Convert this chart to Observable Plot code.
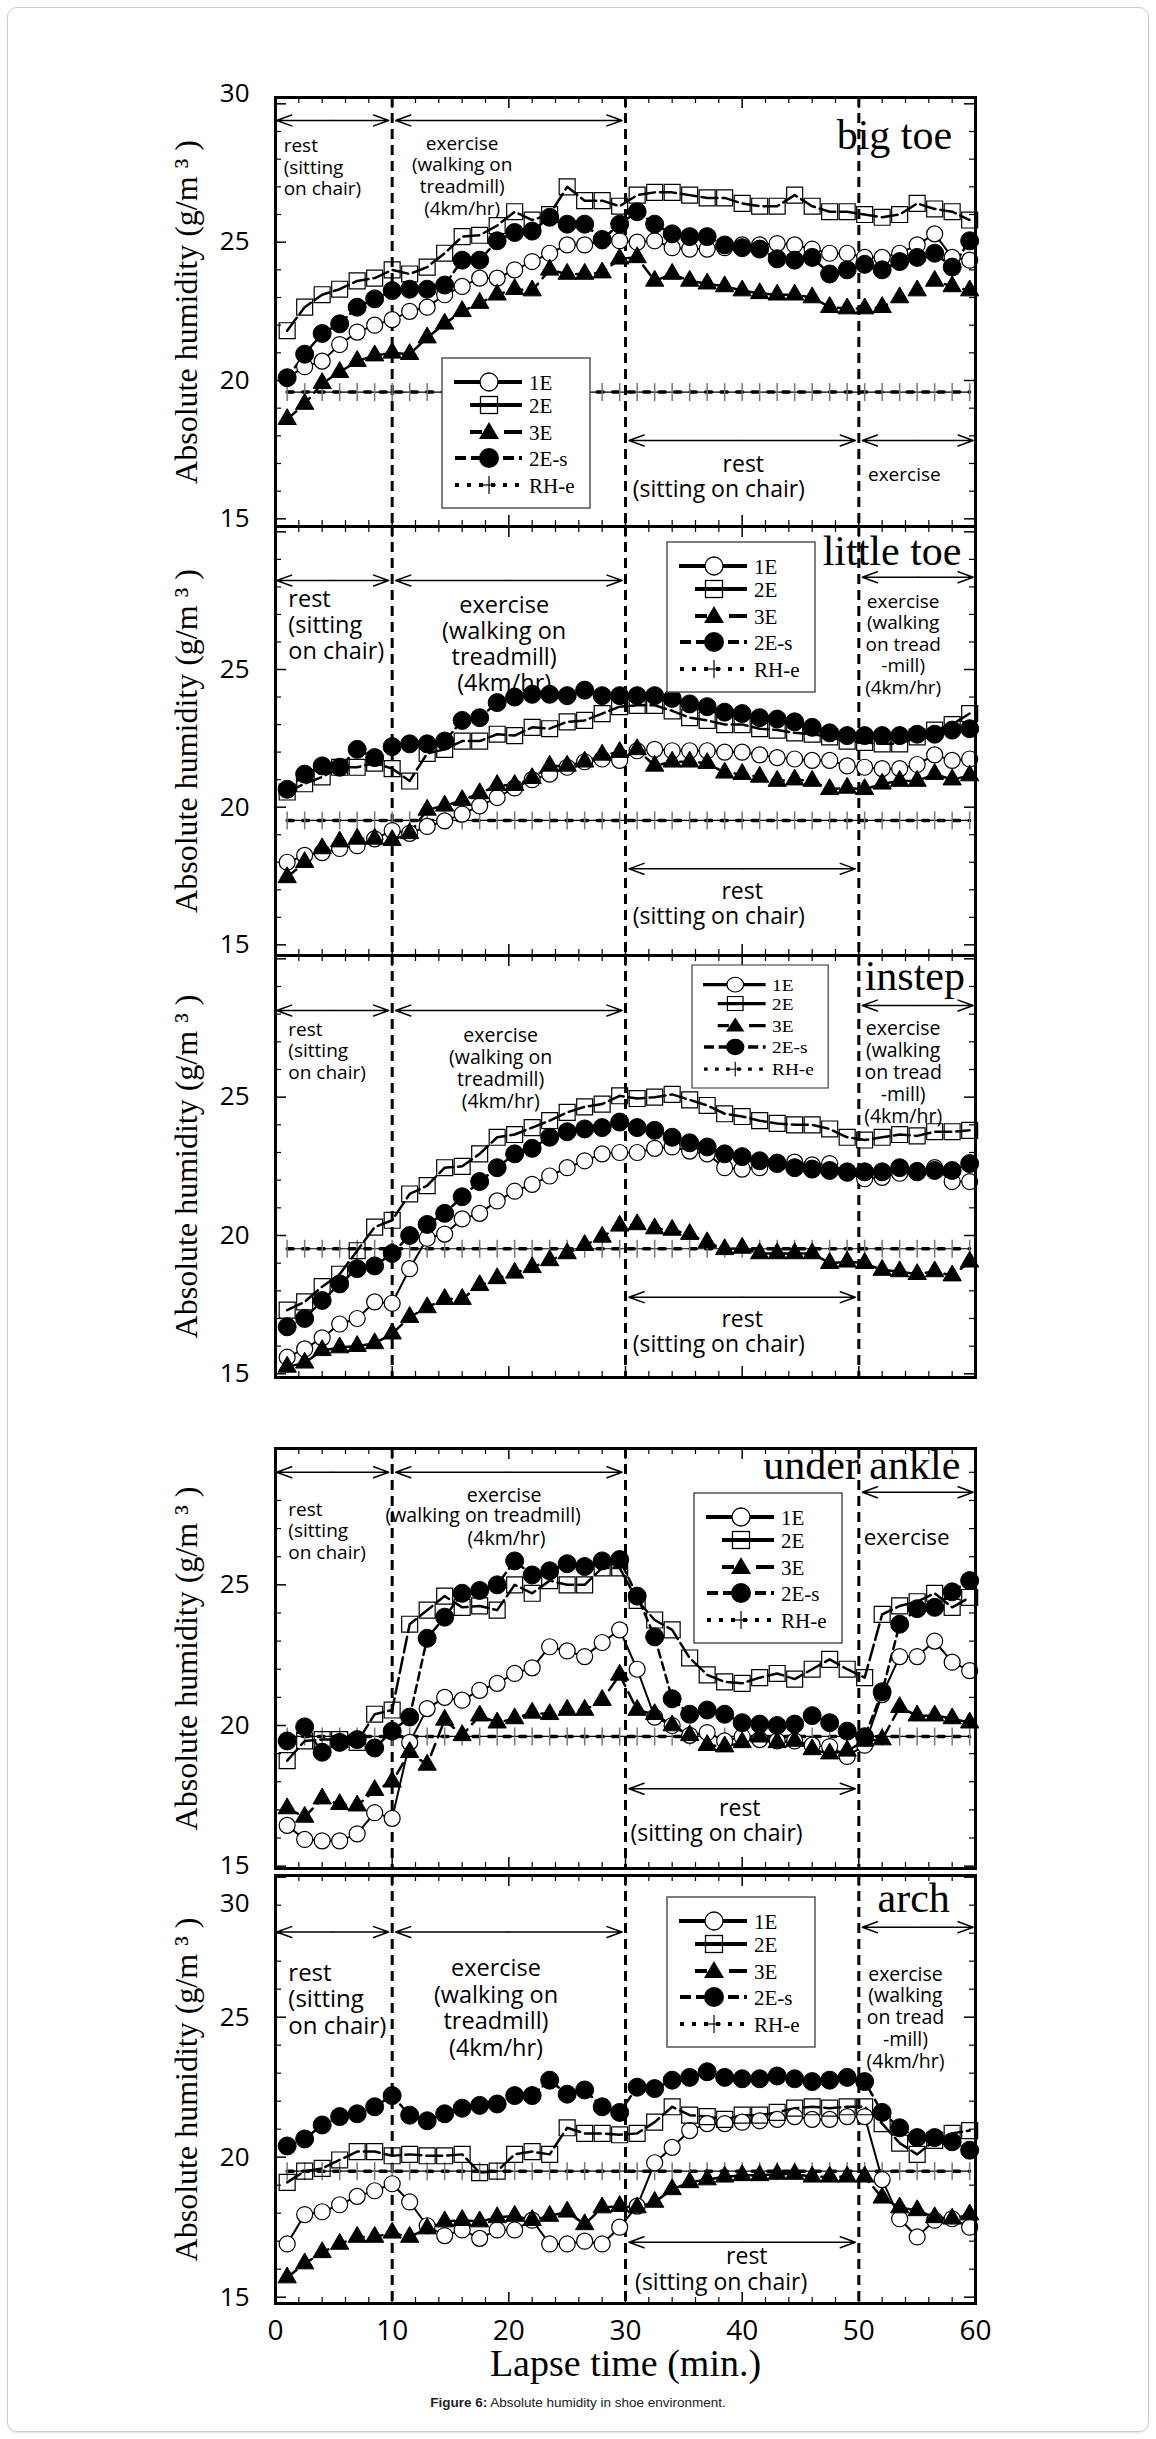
<!DOCTYPE html>
<html>
<head>
<meta charset="utf-8">
<script src="https://cdn.jsdelivr.net/npm/d3@7"></script>
<script src="https://cdn.jsdelivr.net/npm/@observablehq/plot@0.6"></script>
<style>
  body { margin: 0; background: #fff; }
  #wrap { position: relative; width: 1156px; height: 2439px; overflow: hidden; }
  .card { position: absolute; left: 7px; top: 7px; width: 1140px; height: 2423px; border: 1.5px solid #cdcdcd; border-radius: 10px; box-shadow: 0 1px 2px rgba(0,0,0,0.12); }
  .panel { position: absolute; left: 0; }
  .caption { position: absolute; top: 2395px; left: 0; width: 1156px; text-align: center; font: 13.5px "Liberation Sans", Arial, sans-serif; color: #222; }
</style>
</head>
<body>
<div id="wrap">
  <div class="card"></div>
  <div class="caption"><b>Figure 6:</b> Absolute humidity in shoe environment.</div>
</div>
<script>
// ---------------- DATA ----------------
const minutes = [1, 2.5, 4, 5.5, 7, 8.5, 10, 11.5, 13, 14.5, 16, 17.5, 19, 20.5, 22, 23.5, 25, 26.5, 28, 29.5,
                 31, 32.5, 34, 35.5, 37, 38.5, 40, 41.5, 43, 44.5, 46, 47.5, 49, 50.5, 52, 53.5, 55, 56.5, 58, 59.5];
const seriesNames = ["1E", "2E", "3E", "2E-s", "RH-e"];
const phaseBounds = [10, 30, 50];
const xTickLabels = [0, 10, 20, 30, 40, 50, 60];
const xMinorTicks = [2,4,6,8,12,14,16,18,22,24,26,28,32,34,36,38,42,44,46,48,52,54,56,58];
const xMajorTicks = [0, 10, 20, 30, 40, 50, 60];
const yMinorTicks = [16,17,18,19,21,22,23,24,26,27,28,29];
const yMajorTicks = [15, 20, 25, 30];
const yTitle = "Absolute humidity (g/m \u00b3 )";
const xTitle = "Lapse time (min.)";

// big toe
const bigToe1E  = [20.1,20.5,20.7,21.3,21.75,22.0,22.2,22.5,22.65,23.1,23.4,23.7,23.7,24.0,24.3,24.6,24.9,24.9,25.05,25.05,
                   25.0,25.05,24.8,24.75,24.75,24.8,24.9,24.9,24.95,24.9,24.75,24.6,24.6,24.45,24.45,24.6,24.9,25.3,24.45,24.35];
const bigToe2E  = [21.8,22.65,23.1,23.3,23.6,23.7,24.0,23.85,24.1,24.6,25.2,25.25,25.6,26.1,25.8,26.0,27.0,26.5,26.5,26.3,
                   26.7,26.8,26.8,26.7,26.6,26.6,26.4,26.3,26.3,26.7,26.3,26.1,26.1,26.0,25.9,26.0,26.4,26.2,26.1,25.8];
const bigToe3E  = [18.6,19.15,19.9,20.3,20.7,20.9,21.0,20.95,21.55,22.05,22.5,22.8,23.1,23.3,23.25,24.0,23.85,23.85,23.9,24.4,
                   24.45,23.6,23.85,23.6,23.5,23.4,23.25,23.15,23.1,23.1,23.0,22.65,22.6,22.6,22.65,23.0,23.25,23.6,23.4,23.25];
const bigToe2Es = [20.1,20.95,21.7,22.05,22.65,22.95,23.25,23.3,23.3,23.45,24.35,24.35,25.05,25.35,25.4,25.9,25.65,25.65,25.1,25.65,
                   26.1,25.65,25.3,25.2,25.2,24.9,24.8,24.75,24.4,24.35,24.45,23.85,24.0,24.2,24.0,24.3,24.45,24.6,24.1,25.05];
// little toe
const littleToe1E  = [18.0,18.25,18.35,18.5,18.6,18.85,19.15,19.05,19.3,19.5,19.75,20.05,20.35,20.7,21.0,21.2,21.45,21.65,21.75,21.7,
                      22.05,22.1,22.05,22.05,22.05,22.0,22.0,21.9,21.8,21.75,21.7,21.7,21.5,21.45,21.4,21.4,21.55,21.9,21.7,21.75];
const littleToe2E  = [20.55,20.85,21.1,21.45,21.45,21.6,21.4,20.95,21.95,22.1,22.4,22.4,22.65,22.6,22.9,22.85,23.1,23.15,23.4,23.65,
                      23.7,23.7,23.5,23.25,23.15,23.0,23.0,22.85,22.8,22.7,22.65,22.55,22.4,22.35,22.3,22.3,22.55,22.8,23.0,23.4];
const littleToe3E  = [17.45,18.0,18.5,18.75,18.85,18.85,18.8,19.05,19.9,20.05,20.25,20.5,20.8,20.8,21.05,21.5,21.5,21.65,21.9,22.0,
                      22.1,21.5,21.65,21.65,21.6,21.25,21.2,21.1,20.95,21.0,20.95,20.65,20.7,20.65,20.85,20.95,20.95,21.2,21.0,21.15];
const littleToe2Es = [20.65,21.2,21.5,21.45,22.1,21.8,22.2,22.3,22.3,22.4,23.15,23.25,23.8,24.0,24.1,24.1,24.05,24.25,24.05,24.05,
                      24.05,24.05,23.95,23.75,23.65,23.45,23.4,23.25,23.2,23.1,22.9,22.7,22.6,22.6,22.6,22.6,22.65,22.65,22.8,22.85];
// instep
const instep1E  = [15.6,15.9,16.3,16.8,17.0,17.6,17.55,18.8,19.9,20.05,20.6,20.8,21.25,21.6,21.85,22.15,22.45,22.7,22.95,23.0,
                   23.0,23.15,23.2,23.05,22.95,22.45,22.4,22.45,22.65,22.65,22.55,22.6,22.25,22.05,22.1,22.25,22.35,22.45,21.95,21.95];
const instep2E  = [17.3,17.6,18.15,18.6,19.45,20.3,20.55,21.5,21.8,22.45,22.5,22.95,23.55,23.65,23.9,24.15,24.45,24.65,24.75,25.05,
                   24.95,25.0,25.1,24.9,24.7,24.4,24.3,24.15,24.05,24.0,24.0,23.85,23.55,23.45,23.55,23.65,23.6,23.75,23.75,23.8];
const instep3E  = [15.25,15.4,15.85,15.95,16.0,16.1,16.45,17.05,17.4,17.7,17.7,18.2,18.45,18.65,18.85,19.1,19.35,19.65,19.95,20.35,
                   20.4,20.25,20.2,20.05,19.75,19.5,19.55,19.35,19.35,19.35,19.35,19.0,19.05,19.0,18.75,18.7,18.6,18.7,18.55,19.05];
const instep2Es = [16.7,17.0,17.65,18.25,18.8,18.9,19.35,20.0,20.4,20.8,21.4,21.95,22.45,22.95,23.15,23.55,23.75,23.85,23.9,24.1,
                   23.9,23.8,23.55,23.35,23.2,22.95,22.85,22.7,22.6,22.45,22.4,22.35,22.3,22.3,22.3,22.45,22.3,22.35,22.35,22.6];
// under ankle
const ankle1E  = [16.45,15.95,15.9,15.9,16.15,16.9,16.7,19.4,20.6,21.0,20.9,21.25,21.5,21.85,22.05,22.8,22.65,22.45,22.95,23.4,
                  22.0,20.3,20.0,19.65,19.75,19.45,19.6,19.5,19.45,19.45,19.3,19.25,18.9,19.3,21.1,22.45,22.45,23.0,22.25,21.95];
const ankle2E  = [18.75,19.45,19.5,19.5,19.4,20.4,20.55,23.6,24.1,24.6,24.2,24.25,24.1,25.0,24.7,25.15,25.0,25.0,25.6,25.6,
                  24.45,23.75,23.4,22.4,21.8,21.55,21.5,21.7,21.85,21.65,22.0,22.35,22.0,21.7,23.95,24.25,24.4,24.7,24.2,24.55];
const ankle3E  = [17.05,16.75,17.4,17.2,17.15,17.7,18.0,19.05,18.6,20.2,19.65,20.35,20.1,20.25,20.45,20.4,20.55,20.55,20.9,21.8,
                  20.55,20.4,20.0,19.65,19.3,19.25,19.4,19.6,19.4,19.45,19.15,19.0,19.1,19.45,19.5,20.65,20.35,20.35,20.25,20.1];
const ankle2Es = [19.45,19.95,19.05,19.4,19.5,19.2,19.8,20.3,23.1,23.85,24.7,24.8,25.0,25.85,25.35,25.5,25.75,25.65,25.85,25.9,
                  24.6,23.15,20.95,20.4,20.55,20.4,20.1,20.05,20.0,20.05,20.35,20.1,19.8,19.6,21.2,23.6,24.15,24.2,24.75,25.15];
// arch
const arch1E  = [16.9,17.95,18.05,18.3,18.6,18.8,19.05,18.4,17.55,17.2,17.4,17.1,17.4,17.4,17.75,16.9,16.9,17.0,16.9,17.5,
                 18.25,19.8,20.35,20.95,21.2,21.2,21.25,21.3,21.35,21.45,21.35,21.35,21.45,21.45,19.2,17.8,17.15,17.75,17.8,17.5];
const arch2E  = [19.1,19.5,19.6,19.9,20.2,20.2,20.05,20.1,20.05,20.05,20.1,19.45,19.5,20.1,20.2,20.1,21.05,20.85,20.85,20.8,
                 20.85,21.25,21.8,21.5,21.45,21.35,21.5,21.5,21.6,21.75,21.8,21.75,21.8,21.8,21.2,20.5,20.1,20.6,20.85,20.95];
const arch3E  = [15.7,16.2,16.6,16.9,17.15,17.15,17.3,17.15,17.45,17.7,17.75,17.7,17.85,17.9,17.75,17.9,18.05,17.6,18.2,18.25,
                 18.2,18.4,18.85,19.1,19.2,19.3,19.35,19.35,19.4,19.4,19.3,19.3,19.3,19.3,18.55,18.2,18.1,17.85,17.8,17.95];
const arch2Es = [20.4,20.65,21.15,21.45,21.55,21.8,22.2,21.5,21.3,21.55,21.75,21.85,21.9,22.2,22.2,22.75,22.25,22.4,21.8,21.6,
                 22.5,22.45,22.75,22.85,23.05,22.85,22.8,22.8,22.9,22.8,22.7,22.75,22.85,22.7,21.6,21.05,20.7,20.7,20.55,20.25];
// RH-e (environment, flat) read per panel
const rheLevels = [19.58, 19.52, 19.52, 19.61, 19.5];

// ---------------- LAYOUT / ANNOTATIONS ----------------
const sans = "'Open Sans', 'Liberation Sans', sans-serif";
const serif = "'Liberation Serif', 'Times New Roman', serif";

const panels = [
  { name: "big toe", top: 97, height: 429, domain: [14.723, 30.229], yLabels: [15, 20, 25], label30dy: -10,
    s1E: bigToe1E, s2E: bigToe2E, s3E: bigToe3E, s2Es: bigToe2Es, rhe: rheLevels[0],
    legend: {x: 442, y: 261, sx: 1, sy: 1},
    arrows: [{from: 0.1, to: 9.7, v: 29.4}, {from: 10.3, to: 29.7, v: 29.4}, {from: 30.3, to: 49.7, v: 17.83}, {from: 50.3, to: 59.8, v: 17.83}],
    notes: [
      {t: 0.7, v: 28.80, text: "rest\n(sitting\non chair)", anchor: "start", size: 19, lh: 1.13, la: "top"},
      {t: 16.0, v: 28.90, text: "exercise\n(walking on\ntreadmill)\n(4km/hr)", anchor: "middle", size: 19, lh: 1.14, la: "top"},
      {t: 58.0, v: 28.37, text: "big toe", anchor: "end", size: 42, la: "bottom", serif: true},
      {t: 40.1, v: 16.69, text: "rest", anchor: "middle", size: 23, la: "bottom"},
      {t: 38.0, v: 15.78, text: "(sitting on chair)", anchor: "middle", size: 23, la: "bottom"},
      {t: 53.9, v: 16.36, text: "exercise", anchor: "middle", size: 19, la: "bottom"}
    ] },
  { name: "little toe", top: 526, height: 429, domain: [14.613, 30.194], yLabels: [15, 20, 25],
    s1E: littleToe1E, s2E: littleToe2E, s3E: littleToe3E, s2Es: littleToe2Es, rhe: rheLevels[1],
    legend: {x: 667, y: 16, sx: 1, sy: 1},
    arrows: [{from: 0.1, to: 9.7, v: 28.23}, {from: 10.3, to: 29.7, v: 28.23}, {from: 30.3, to: 49.7, v: 17.76}, {from: 50.3, to: 59.8, v: 28.35}],
    notes: [
      {t: 1.1, v: 27.93, text: "rest\n(sitting\non chair)", anchor: "start", size: 23.5, lh: 1.1, la: "top"},
      {t: 19.6, v: 27.72, text: "exercise\n(walking on\ntreadmill)\n(4km/hr)", anchor: "middle", size: 23.5, lh: 1.1, la: "top"},
      {t: 46.9, v: 28.78, text: "little toe", anchor: "start", size: 42, la: "bottom", serif: true},
      {t: 53.8, v: 27.81, text: "exercise\n(walking\non tread\n-mill)\n(4km/hr)", anchor: "middle", size: 19, lh: 1.14, la: "top"},
      {t: 40.0, v: 16.67, text: "rest", anchor: "middle", size: 23, la: "bottom"},
      {t: 38.0, v: 15.76, text: "(sitting on chair)", anchor: "middle", size: 23, la: "bottom"}
    ] },
  { name: "instep", top: 955, height: 422, domain: [14.867, 30.12], yLabels: [15, 20, 25],
    s1E: instep1E, s2E: instep2E, s3E: instep3E, s2Es: instep2Es, rhe: rheLevels[2],
    legend: {x: 692, y: 10, sx: 0.92, sy: 0.82},
    arrows: [{from: 0.1, to: 9.7, v: 28.13}, {from: 10.3, to: 29.7, v: 28.13}, {from: 30.3, to: 49.7, v: 17.77}, {from: 50.3, to: 59.8, v: 28.31}],
    notes: [
      {t: 1.1, v: 27.78, text: "rest\n(sitting\non chair)", anchor: "start", size: 19, lh: 1.14, la: "top"},
      {t: 19.3, v: 27.55, text: "exercise\n(walking on\ntreadmill)\n(4km/hr)", anchor: "middle", size: 19.5, lh: 1.13, la: "top"},
      {t: 59.1, v: 28.86, text: "instep", anchor: "end", size: 42, la: "bottom", serif: true},
      {t: 53.8, v: 27.79, text: "exercise\n(walking\non tread\n-mill)\n(4km/hr)", anchor: "middle", size: 19.5, lh: 1.12, la: "top"},
      {t: 40.0, v: 16.69, text: "rest", anchor: "middle", size: 23, la: "bottom"},
      {t: 38.0, v: 15.78, text: "(sitting on chair)", anchor: "middle", size: 23, la: "bottom"}
    ] },
  { name: "under ankle", top: 1448, height: 420, domain: [14.917, 29.846], yLabels: [15, 20, 25],
    s1E: ankle1E, s2E: ankle2E, s3E: ankle3E, s2Es: ankle2Es, rhe: rheLevels[3],
    legend: {x: 694, y: 45, sx: 1, sy: 1},
    arrows: [{from: 0.1, to: 9.7, v: 29.0}, {from: 10.3, to: 29.7, v: 29.0}, {from: 30.3, to: 49.7, v: 17.75}, {from: 50.3, to: 59.8, v: 28.29}],
    notes: [
      {t: 1.1, v: 28.0, text: "rest\n(sitting\non chair)", anchor: "start", size: 19, lh: 1.14, la: "top"},
      {t: 19.6, v: 27.96, text: "exercise", anchor: "middle", size: 19.5, la: "bottom"},
      {t: 17.8, v: 27.23, text: "(walking on treadmill)", anchor: "middle", size: 19.5, la: "bottom"},
      {t: 19.8, v: 26.43, text: "(4km/hr)", anchor: "middle", size: 19.5, la: "bottom"},
      {t: 58.7, v: 28.77, text: "under ankle", anchor: "end", size: 42, la: "bottom", serif: true},
      {t: 54.1, v: 26.40, text: "exercise", anchor: "middle", size: 22.5, la: "bottom"},
      {t: 39.8, v: 16.80, text: "rest", anchor: "middle", size: 23, la: "bottom"},
      {t: 37.8, v: 15.89, text: "(sitting on chair)", anchor: "middle", size: 23, la: "bottom"}
    ] },
  { name: "arch", top: 1875, height: 428, domain: [14.774, 30.06], yLabels: [15, 20, 25], label30dy: 26,
    s1E: arch1E, s2E: arch2E, s3E: arch3E, s2Es: arch2Es, rhe: rheLevels[4],
    legend: {x: 667, y: 22, sx: 1, sy: 1},
    arrows: [{from: 0.1, to: 9.7, v: 28.04}, {from: 10.3, to: 29.7, v: 28.04}, {from: 30.3, to: 49.7, v: 16.96}, {from: 50.3, to: 59.8, v: 28.21}],
    notes: [
      {t: 1.1, v: 26.98, text: "rest\n(sitting\non chair)", anchor: "start", size: 24, lh: 1.11, la: "top"},
      {t: 18.9, v: 27.14, text: "exercise\n(walking on\ntreadmill)\n(4km/hr)", anchor: "middle", size: 23.5, lh: 1.13, la: "top"},
      {t: 57.8, v: 28.75, text: "arch", anchor: "end", size: 42, la: "bottom", serif: true},
      {t: 54.0, v: 26.86, text: "exercise\n(walking\non tread\n-mill)\n(4km/hr)", anchor: "middle", size: 19.5, lh: 1.12, la: "top"},
      {t: 40.4, v: 16.19, text: "rest", anchor: "middle", size: 23, la: "bottom"},
      {t: 38.2, v: 15.24, text: "(sitting on chair)", anchor: "middle", size: 23, la: "bottom"}
    ] }
];

// vertical bar symbol for the RH-e crosses
const vbar = {
  draw(context, size) {
    const h = Math.sqrt(size / Math.PI);
    context.moveTo(0, -h);
    context.lineTo(0, h);
  }
};

// ---------------- DRAW ----------------
function drawLegend(svg, L) {
  const g = d3.select(svg).append("g")
    .attr("transform", `translate(${L.x},${L.y}) scale(${L.sx},${L.sy})`);
  g.append("rect").attr("width", 148).attr("height", 150)
    .attr("fill", "white").attr("stroke", "#555").attr("stroke-width", 1.5);
  const rowsY = [24, 47, 74, 100, 127];
  const mx = 47;
  seriesNames.forEach((name, i) => {
    const y = rowsY[i];
    const row = g.append("g");
    if (name === "1E") {
      row.append("line").attr("x1", 12).attr("x2", 80).attr("y1", y).attr("y2", y).attr("stroke", "black").attr("stroke-width", 4);
      row.append("circle").attr("cx", mx).attr("cy", y).attr("r", 9).attr("fill", "white").attr("stroke", "black").attr("stroke-width", 1.3);
    } else if (name === "2E") {
      row.append("line").attr("x1", 28).attr("x2", 80).attr("y1", y).attr("y2", y).attr("stroke", "black").attr("stroke-width", 4);
      row.append("rect").attr("x", mx - 8.5).attr("y", y - 8.5).attr("width", 17).attr("height", 17).attr("fill", "none").attr("stroke", "black").attr("stroke-width", 1.3);
    } else if (name === "3E") {
      row.append("line").attr("x1", 28).attr("x2", 80).attr("y1", y).attr("y2", y).attr("stroke", "black").attr("stroke-width", 4).attr("stroke-dasharray", "12,22,18");
      row.append("path").attr("d", `M${mx},${y - 10}L${mx + 10},${y + 7}L${mx - 10},${y + 7}Z`).attr("fill", "black");
    } else if (name === "2E-s") {
      row.append("line").attr("x1", 13).attr("x2", 80).attr("y1", y).attr("y2", y).attr("stroke", "black").attr("stroke-width", 4).attr("stroke-dasharray", "11,5");
      row.append("circle").attr("cx", mx).attr("cy", y).attr("r", 10).attr("fill", "black");
    } else {
      row.append("line").attr("x1", 13).attr("x2", 80).attr("y1", y).attr("y2", y).attr("stroke", "black").attr("stroke-width", 4).attr("stroke-dasharray", "4,8");
      row.append("line").attr("x1", mx).attr("x2", mx).attr("y1", y - 9).attr("y2", y + 9).attr("stroke", "black").attr("stroke-width", 1.2);
      row.append("line").attr("x1", mx - 7).attr("x2", mx + 7).attr("y1", y).attr("y2", y).attr("stroke", "black").attr("stroke-width", 1.2);
    }
    row.append("text").attr("x", 87).attr("y", y + 7.5)
      .attr("text-anchor", "start")
      .attr("font-family", serif).attr("font-size", 21).attr("fill", "black").text(name);
  });
}

function panelPlot(p, isLast) {
  const [lo, hi] = p.domain;
  const H = p.height;
  const innerW = 700;
  const inY = d => d >= lo && d <= hi;
  const rows = arr => minutes.map((t, i) => ({t, v: arr[i]}));
  const rhe = minutes.map(t => ({t, v: p.rhe}));
  const arrowRows = p.arrows.flatMap(a => {
    const m = (a.from + a.to) / 2;
    return [{x1: m, x2: a.from, y: a.v}, {x1: m, x2: a.to, y: a.v}];
  });
  const noteMarks = p.notes.map(n => Plot.text([n], {
    x: "t", y: "v", text: "text", textAnchor: n.anchor, lineAnchor: n.la,
    lineHeight: n.lh || 1, fontSize: n.size, fontFamily: n.serif ? serif : sans, fill: "black"
  }));
  const marks = [
    Plot.ruleX(phaseBounds, {strokeWidth: 3, strokeDasharray: "10,6"}),
    Plot.tickY(yMinorTicks.filter(inY), {y: d => d, insetRight: innerW - 6, strokeWidth: 1.2}),
    Plot.tickY(yMinorTicks.filter(inY), {y: d => d, insetLeft: innerW - 6, strokeWidth: 1.2}),
    Plot.tickY(yMajorTicks.filter(inY), {y: d => d, insetRight: innerW - 11, strokeWidth: 1.5}),
    Plot.tickY(yMajorTicks.filter(inY), {y: d => d, insetLeft: innerW - 11, strokeWidth: 1.5}),
    Plot.tickX(xMinorTicks, {x: d => d, insetBottom: H - 6, strokeWidth: 1.2}),
    Plot.tickX(xMinorTicks, {x: d => d, insetTop: H - 6, strokeWidth: 1.2}),
    Plot.tickX(xMajorTicks, {x: d => d, insetBottom: H - 11, strokeWidth: 1.5}),
    Plot.tickX(xMajorTicks, {x: d => d, insetTop: H - 11, strokeWidth: 1.5}),
    // RH-e: thin line + short thick dashes + grey vertical crosses
    Plot.line(rhe, {x: "t", y: "v", strokeWidth: 1.2}),
    Plot.line(rhe, {x: "t", y: "v", strokeWidth: 3.5, strokeDasharray: "6,9.5"}),
    Plot.dot(rhe, {x: "t", y: "v", symbol: vbar, r: 9, fill: "none", stroke: "#777", strokeWidth: 1.5}),
    // series lines
    Plot.line(rows(p.s1E), {x: "t", y: "v", strokeWidth: 2}),
    Plot.line(rows(p.s2E), {x: "t", y: "v", strokeWidth: 2.5, strokeDasharray: "16,5"}),
    Plot.line(rows(p.s3E), {x: "t", y: "v", strokeWidth: 2.5, strokeDasharray: "12,7"}),
    Plot.line(rows(p.s2Es), {x: "t", y: "v", strokeWidth: 2.5, strokeDasharray: "8,5"}),
    // markers
    Plot.dot(rows(p.s1E), {x: "t", y: "v", r: 8, fill: "white", stroke: "black", strokeWidth: 1.2}),
    Plot.dot(rows(p.s2E), {x: "t", y: "v", symbol: "square", r: 9, fill: "none", stroke: "black", strokeWidth: 1.2}),
    Plot.dot(rows(p.s3E), {x: "t", y: "v", symbol: "triangle", r: 6.8, fill: "black", stroke: "black", strokeWidth: 1}),
    Plot.dot(rows(p.s2Es), {x: "t", y: "v", r: 9, fill: "black", stroke: "black", strokeWidth: 1}),
    // annotations
    Plot.arrow(arrowRows, {x1: "x1", y1: "y", x2: "x2", y2: "y", strokeWidth: 1.5, headLength: 16, headAngle: 40}),
    ...noteMarks,
    Plot.frame({strokeWidth: 3}),
    Plot.axisY({ticks: p.yLabels, tickSize: 0, tickPadding: 26, fontSize: 26, fontFamily: sans}),
    p.label30dy != null ? Plot.text([30], {y: d => d, text: d => String(d), frameAnchor: "left", textAnchor: "end", dx: -26, dy: p.label30dy, fontSize: 26, fontFamily: sans}) : null,
    Plot.text([yTitle], {frameAnchor: "left", textAnchor: "middle", rotate: -90, dx: -89, fontSize: 32, fontFamily: serif, fill: "black"}),
    isLast ? Plot.axisX({ticks: xTickLabels, tickSize: 0, tickPadding: 17, fontSize: 28, fontFamily: sans}) : null,
    isLast ? Plot.text([xTitle], {frameAnchor: "bottom", dy: 72, lineAnchor: "bottom", fontSize: 38, fontFamily: serif, fill: "black"}) : null
  ].filter(Boolean);

  const svg = Plot.plot({
    width: 1156,
    height: H + (isLast ? 100 : 0),
    marginLeft: 275, marginRight: 181, marginTop: 0, marginBottom: isLast ? 100 : 0,
    x: isLast ? {domain: [0, 60]} : {domain: [0, 60], axis: null},
    y: {domain: [lo, hi]},
    style: {overflow: "visible", background: "transparent", color: "black", fontFamily: sans},
    marks
  });
  drawLegend(svg, p.legend);
  svg.classList.add("panel");
  svg.style.position = "absolute";
  svg.style.left = "0px";
  svg.style.top = p.top + "px";
  return svg;
}

const wrap = document.getElementById("wrap");
panels.forEach((p, i) => wrap.appendChild(panelPlot(p, i === panels.length - 1)));
</script>
</body>
</html>
